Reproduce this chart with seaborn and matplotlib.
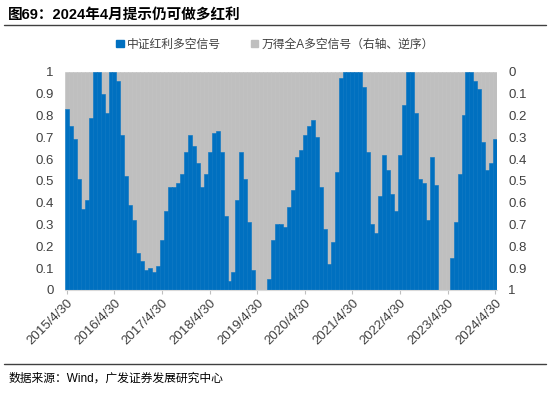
import matplotlib
matplotlib.use("Agg")
import matplotlib.pyplot as plt
import seaborn as sns
import pandas as pd
import numpy as np
from matplotlib.patches import Patch

# ---- data (monthly, 2015/4 .. 2024/4) ----
dividend_signal = [
    0.83, 0.75, 0.69, 0.51, 0.37, 0.41, 0.79, 1.00, 1.00, 0.90, 0.81, 1.00,
    1.00, 0.96, 0.71, 0.52, 0.39, 0.32, 0.17, 0.13, 0.09, 0.10, 0.08, 0.11,
    0.23, 0.36, 0.47, 0.47, 0.49, 0.53, 0.63, 0.71, 0.66, 0.58, 0.47, 0.53,
    0.63, 0.72, 0.73, 0.63, 0.34, 0.04, 0.08, 0.41, 0.63, 0.51, 0.31, 0.09,
    0.00, 0.00, 0.00, 0.05, 0.23, 0.30, 0.30, 0.29, 0.38, 0.46, 0.61, 0.64,
    0.71, 0.75, 0.78, 0.70, 0.47, 0.28, 0.12, 0.22, 0.54, 0.97, 1.00, 1.00,
    1.00, 1.00, 1.00, 0.93, 0.63, 0.30, 0.26, 0.43, 0.62, 0.55, 0.44, 0.36,
    0.62, 0.85, 1.00, 1.00, 0.81, 0.51, 0.49, 0.32, 0.61, 0.48, 0.00, 0.00,
    0.00, 0.145, 0.31, 0.53, 0.80, 1.00, 1.00, 0.96, 0.92, 0.68, 0.55, 0.58,
    0.69,
]
wind_a_signal = [
    0.17, 0.25, 0.31, 0.49, 0.63, 0.59, 0.21, 0.00, 0.00, 0.10, 0.19, 0.00,
    0.00, 0.04, 0.29, 0.48, 0.61, 0.68, 0.83, 0.87, 0.91, 0.90, 0.92, 0.89,
    0.77, 0.64, 0.53, 0.53, 0.51, 0.47, 0.37, 0.29, 0.34, 0.42, 0.53, 0.47,
    0.37, 0.28, 0.27, 0.37, 0.66, 0.96, 0.92, 0.59, 0.37, 0.49, 0.69, 0.91,
    1.00, 1.00, 1.00, 0.95, 0.77, 0.70, 0.70, 0.71, 0.62, 0.54, 0.39, 0.36,
    0.29, 0.25, 0.22, 0.30, 0.53, 0.72, 0.88, 0.78, 0.46, 0.03, 0.00, 0.00,
    0.00, 0.00, 0.00, 0.07, 0.37, 0.70, 0.74, 0.57, 0.38, 0.45, 0.56, 0.64,
    0.38, 0.15, 0.00, 0.00, 0.19, 0.49, 0.51, 0.68, 0.39, 0.52, 1.00, 1.00,
    1.00, 0.855, 0.69, 0.47, 0.20, 0.00, 0.00, 0.04, 0.08, 0.32, 0.45, 0.42,
    0.31,
]
tick_labels = ["2015/4/30", "2016/4/30", "2017/4/30", "2018/4/30", "2019/4/30",
               "2020/4/30", "2021/4/30", "2022/4/30", "2023/4/30", "2024/4/30"]
y_ticks = [0, 0.1, 0.2, 0.3, 0.4, 0.5, 0.6, 0.7, 0.8, 0.9, 1]
y_tick_labels = ["0", "0.1", "0.2", "0.3", "0.4", "0.5", "0.6", "0.7", "0.8", "0.9", "1"]

BLUE = "#0070C0"
GRAY = "#BFBFBF"

sns.set_theme(style="white")
plt.rcParams["font.family"] = ["Liberation Sans", "Noto Sans CJK SC"]

n = len(dividend_signal)
df = pd.DataFrame({"idx": np.arange(n), "blue": dividend_signal, "gray": wind_a_signal})

fig = plt.figure(figsize=(5.5, 3.97), dpi=100)
ax = fig.add_axes([0.118, 0.270, 0.786, 0.549])
ax2 = ax.twinx()

sns.barplot(data=df, x="idx", y="gray", color=GRAY, width=1.0, ax=ax2,
            edgecolor=GRAY, linewidth=0.4, saturation=1)
sns.barplot(data=df, x="idx", y="blue", color=BLUE, width=1.0, ax=ax,
            edgecolor=BLUE, linewidth=0.4, saturation=1)

ax.set_zorder(ax2.get_zorder() + 1)
ax.patch.set_visible(False)

for a in (ax, ax2):
    a.set_xlim(-0.5, n - 0.5)
    a.set_xlabel("")
    a.set_ylabel("")
    for s in a.spines.values():
        s.set_visible(False)

ax.set_ylim(0, 1)
ax2.set_ylim(1, 0)
ax.set_yticks(y_ticks)
ax.set_yticklabels(y_tick_labels)
ax2.set_yticks(y_ticks)
ax2.set_yticklabels(y_tick_labels)
ax.tick_params(axis="y", length=0, labelsize=9.5, colors="#404040", pad=8)
ax2.tick_params(axis="y", length=0, labelsize=9.5, colors="#404040", pad=8)

xt = list(range(0, n, 12))
ax.set_xticks(xt)
ax.set_xticklabels(tick_labels[:len(xt)], rotation=45, ha="right",
                   rotation_mode="anchor", fontsize=9.5, color="#404040")
ax.tick_params(axis="x", length=3, color="#BFBFBF", width=0.8, pad=2, bottom=True)
ax2.tick_params(axis="x", bottom=False, labelbottom=False)
ax.spines["bottom"].set_visible(True)
ax.spines["bottom"].set_color("#D9D9D9")
ax.spines["bottom"].set_linewidth(0.8)

# title and rules
fig.text(0.015, 0.962, "图69：2024年4月提示仍可做多红利", fontsize=10.5,
         fontweight="bold", va="center", ha="left", color="#000000")
fig.add_artist(plt.Line2D([0.008, 0.992], [0.937, 0.937], color="#404040", lw=1.0))
fig.add_artist(plt.Line2D([0.008, 0.992], [0.083, 0.083], color="#404040", lw=1.0))
fig.text(0.015, 0.047, "数据来源：Wind，广发证券发展研究中心", fontsize=8.5,
         va="center", ha="left", color="#000000")

# legend
handles = [Patch(color=BLUE, label="中证红利多空信号"),
           Patch(color=GRAY, label="万得全A多空信号（右轴、逆序）")]
fig.legend(handles=handles, loc="center", bbox_to_anchor=(0.5, 0.887), ncol=2,
           frameon=False, fontsize=8.5, handlelength=0.6, handleheight=0.6,
           handletextpad=0.3, columnspacing=2.5, labelcolor="#404040")

fig.savefig("out.png", dpi=100)
